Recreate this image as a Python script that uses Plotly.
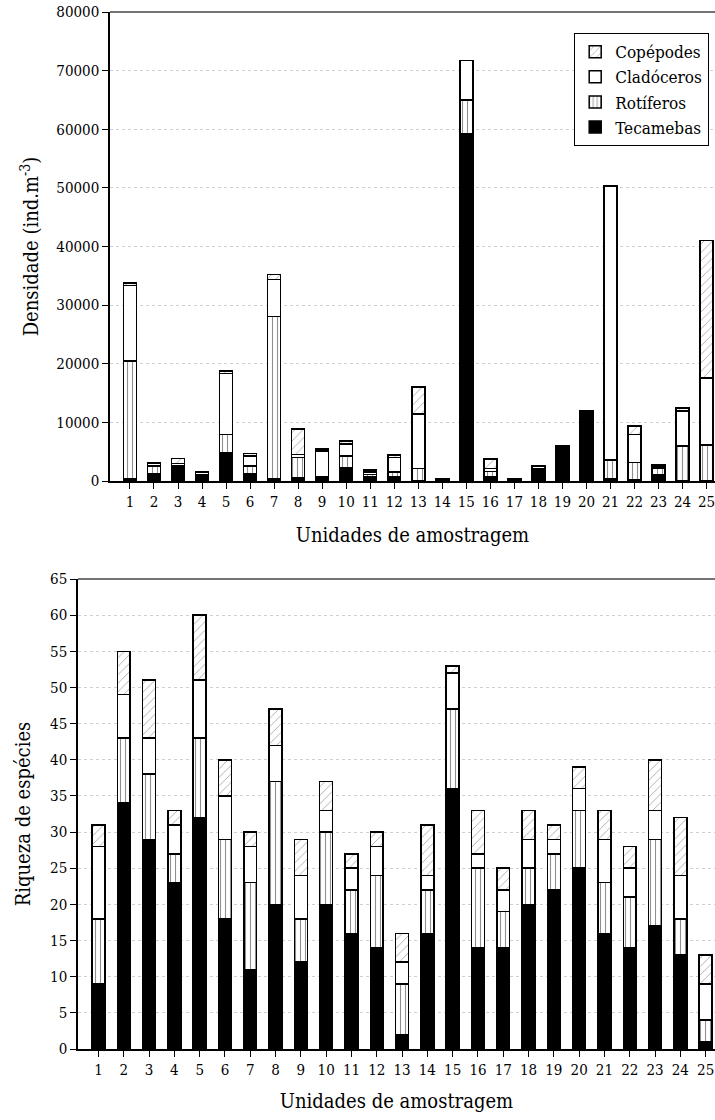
import plotly.graph_objects as go

units = list(range(1, 26))
tick_labels = [str(u) for u in units]

# Density (ind.m-3)
dens_tec = [300, 1300, 2300, 900, 4750, 1300, 300, 600, 700, 2270, 750, 700, 100, 350, 59200,
            700, 250, 2100, 5900, 11700, 400, 150, 1000, 100, 100]
dens_rot = [20200, 1300, 300, 100, 3200, 1300, 27800, 3400, 100, 2000, 400, 850, 2050, 50, 5800,
            900, 30, 60, 30, 0, 3150, 3000, 1250, 5900, 6000]
dens_cla = [12850, 400, 400, 450, 10400, 1700, 6250, 550, 4300, 2050, 400, 2500, 9250, 50, 6700,
            550, 50, 300, 30, 200, 46700, 4800, 300, 5900, 11500]
dens_cop = [400, 180, 850, 80, 450, 350, 850, 4300, 350, 500, 300, 400, 4600, 0, 0,
            1600, 20, 100, 0, 150, 100, 1400, 150, 550, 23450]

# Species richness
ric_tec = [9, 34, 29, 23, 32, 18, 11, 20, 12, 20, 16, 14, 2, 16, 36, 14, 14, 20, 22, 25, 16, 14, 17, 13, 1]
ric_rot = [9, 9, 9, 4, 11, 11, 12, 17, 6, 10, 6, 10, 7, 6, 11, 11, 5, 5, 5, 8, 7, 7, 12, 5, 3]
ric_cla = [10, 6, 5, 4, 8, 6, 5, 5, 6, 3, 3, 4, 3, 2, 5, 2, 3, 4, 2, 3, 6, 4, 4, 6, 5]
ric_cop = [3, 6, 8, 2, 9, 5, 2, 5, 5, 4, 2, 2, 4, 7, 1, 6, 3, 4, 2, 3, 4, 3, 7, 8, 4]

FONT = "DejaVu Serif Condensed"
LINE = dict(color="black", width=1.5)

styles = {
    "Tecamebas": dict(color="black", line=LINE),
    "Rotíferos": dict(color="white", line=LINE,
                      pattern=dict(shape="|", fgcolor="#222", bgcolor="white", size=5, solidity=0.22)),
    "Cladóceros": dict(color="white", line=LINE),
    "Copépodes": dict(color="white", line=LINE,
                      pattern=dict(shape="/", fgcolor="#555", bgcolor="white", size=6, solidity=0.15)),
}

fig = go.Figure()
series_top = [("Tecamebas", dens_tec), ("Rotíferos", dens_rot), ("Cladóceros", dens_cla), ("Copépodes", dens_cop)]
series_bot = [("Tecamebas", ric_tec), ("Rotíferos", ric_rot), ("Cladóceros", ric_cla), ("Copépodes", ric_cop)]

for name, vals in series_top:
    fig.add_trace(go.Bar(x=units, y=vals, name=name, marker=styles[name], width=0.54,
                         xaxis="x", yaxis="y", showlegend=True))
for name, vals in series_bot:
    fig.add_trace(go.Bar(x=units, y=vals, name=name, marker=styles[name], width=0.51,
                         xaxis="x2", yaxis="y2", showlegend=False))

axis_common = dict(showline=True, linecolor="black", linewidth=1.5, ticks="outside",
                   ticklen=6, tickwidth=1.2, tickcolor="black",
                   tickfont=dict(family=FONT, size=15, color="black"))

fig.update_layout(
    width=715, height=1120,
    margin=dict(l=0, r=0, t=0, b=0),
    paper_bgcolor="white", plot_bgcolor="white",
    barmode="stack",
    font=dict(family=FONT, color="black"),
    xaxis=dict(domain=[110/715, 1], range=[0.17, 25.35], tickvals=units, ticktext=tick_labels,
               anchor="y", showgrid=False, zeroline=False, automargin=False,
               ticklabeloverflow="allow",
               title=dict(text="Unidades de amostragem", font=dict(family=FONT, size=20), standoff=18),
               **axis_common),
    yaxis=dict(domain=[639/1120, 1108/1120], range=[0, 80000], dtick=10000, tickformat="d",
               anchor="x", showgrid=True, gridcolor="#d0d0d0", griddash="dot", gridwidth=1,
               zeroline=False, automargin=False,
               title=dict(text="Densidade (ind.m<sup>-3</sup>)", font=dict(family=FONT, size=20), standoff=12),
               **axis_common),
    xaxis2=dict(domain=[78/715, 1], range=[0.19, 25.37], tickvals=units, ticktext=tick_labels,
                anchor="y2", showgrid=False, zeroline=False, automargin=False,
                ticklabeloverflow="allow",
                title=dict(text="Unidades de amostragem", font=dict(family=FONT, size=20), standoff=16),
                **axis_common),
    yaxis2=dict(domain=[71/1120, 541/1120], range=[0, 65], dtick=5,
                anchor="x2", showgrid=True, gridcolor="#d0d0d0", griddash="dot", gridwidth=1,
                zeroline=False, automargin=False,
                title=dict(text="Riqueza de espécies", font=dict(family=FONT, size=20), standoff=14),
                **axis_common),
    legend=dict(x=574/715, y=1 - 33/1120, xanchor="left", yanchor="top",
                traceorder="reversed", bgcolor="white", bordercolor="black", borderwidth=1.2,
                font=dict(family=FONT, size=17), itemwidth=30,
                tracegroupgap=0),
    shapes=[
        dict(type="line", xref="paper", yref="paper", x0=110/715, x1=1, y0=1108/1120, y1=1108/1120,
             line=dict(color="#444", width=1.5)),
        dict(type="line", xref="paper", yref="paper", x0=78/715, x1=1, y0=541/1120, y1=541/1120,
             line=dict(color="#444", width=1.5)),
    ],
)

fig.write_html("out.html")
